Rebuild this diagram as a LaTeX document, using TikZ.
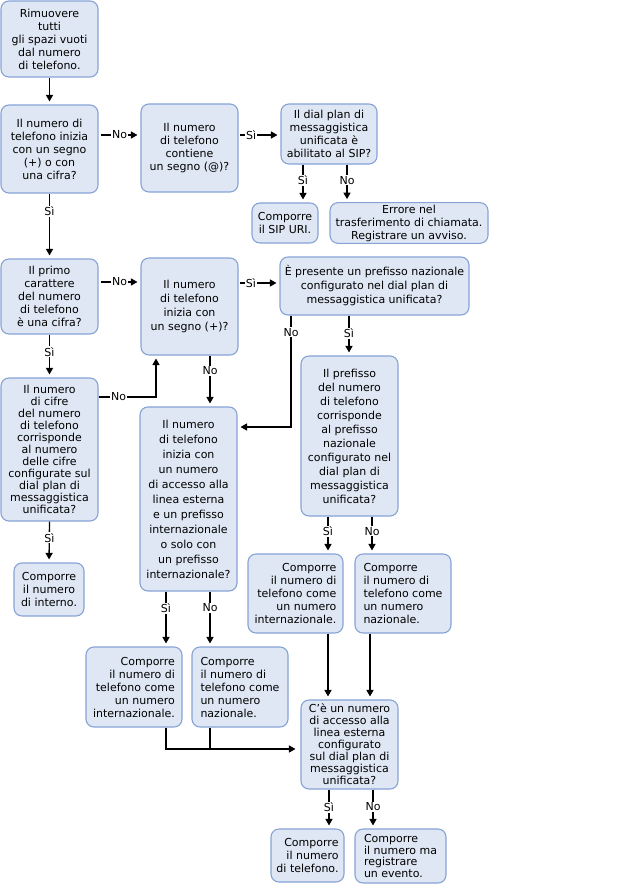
\documentclass[tikz,border=0pt]{standalone}
\usepackage{fontspec}
\setmainfont{DejaVu Sans}
\usetikzlibrary{arrows.meta}
\definecolor{boxfill}{RGB}{222,231,243}
\definecolor{boxline}{RGB}{135,163,214}
\newcommand{\bx}[8][13]{%
  \node[box, align=#7, font=\fontsize{11}{#1}\selectfont,
        minimum width={#5-#3}, minimum height={#6-#4}]
        (#2) at ({(#3+#5)/2},{(#4+#6)/2}) {#8};}
\begin{document}
\begin{tikzpicture}[x=1pt,y=-1pt,
  box/.style={draw=boxline, fill=boxfill, line width=1.1pt, rounded corners=8pt, inner sep=2pt},
  arr/.style={draw=black, line width=1.3pt, -{Triangle[length=6.5pt,width=7pt]}, shorten >=3pt},
  ln/.style={draw=black, line width=1.3pt},
  lbl/.style={fill=white, inner sep=1pt, font=\fontsize{11}{13}\selectfont}]
\useasboundingbox (0,0) rectangle (639,885);

\bx{n1}{1}{1}{98}{77}{center}{Rimuovere\\tutti\\gli spazi vuoti\\dal numero\\di telefono.}
\bx{n2}{1}{105}{98}{193}{center}{Il numero di\\telefono inizia\\con un segno\\(+) o con\\una cifra?}
\bx{n3}{141}{104}{238}{192}{center}{Il numero\\di telefono\\contiene\\un segno (@)?}
\bx{n4}{281}{104}{377}{164}{center}{Il dial plan di\\messaggistica\\unificata è\\abilitato al SIP?}
\bx{n5}{252}{203}{318}{243}{center}{Comporre\\il SIP URI.}
\bx{n6}{330}{203}{488}{243}{center}{Errore nel\\trasferimento di chiamata.\\Registrare un avviso.}
\bx{n7}{1}{259}{98}{334}{center}{Il primo\\carattere\\del numero\\di telefono\\è una cifra?}
\bx[14]{n8}{141}{258}{238}{355}{center}{Il numero\\di telefono\\inizia con\\un segno (+)?}
\bx[14]{n9}{280}{257}{469}{315}{center}{È presente un prefisso nazionale\\configurato nel dial plan di\\messaggistica unificata?}
\bx[12]{n10}{1}{378}{98}{521}{center}{Il numero\\di cifre\\del numero\\di telefono\\corrisponde\\al numero\\delle cifre\\configurate sul\\dial plan di\\messaggistica\\unificata?}
\bx[15]{n11}{140}{407}{237}{591}{center}{Il numero\\di telefono\\inizia con\\un numero\\di accesso alla\\linea esterna\\e un prefisso\\internazionale\\o solo con\\un prefisso\\internazionale?}
\bx[14]{n12}{301}{356}{398}{516}{center}{Il prefisso\\del numero\\di telefono\\corrisponde\\al prefisso\\nazionale\\configurato nel\\dial plan di\\messaggistica\\unificata?}
\bx{n13}{248}{554}{343}{633}{right}{Comporre\\il numero di\\telefono come\\un numero\\internazionale.}
\bx{n14}{355}{554}{451}{633}{left}{Comporre\\il numero di\\telefono come\\un numero\\nazionale.}
\bx{n15}{86}{647}{182}{727}{right}{Comporre\\il numero di\\telefono come\\un numero\\internazionale.}
\bx{n16}{192}{647}{288}{727}{left}{Comporre\\il numero di\\telefono come\\un numero\\nazionale.}
\bx[12]{n17}{301}{700}{398}{789}{center}{C'è un numero\\di accesso alla\\linea esterna\\configurato\\sul dial plan di\\messaggistica\\unificata?}
\bx{n18}{271}{829}{344}{882}{right}{Comporre\\il numero\\di telefono.}
\bx[11.5]{n19}{355}{829}{446}{883}{left}{Comporre\\il numero ma\\registrare\\un evento.}
\bx{n20}{14}{563}{84}{616}{center}{Comporre\\il numero\\di interno.}

% connectors
\draw[arr] (n1.south) -- (n2.north);
\draw[arr, shorten <=2pt] (n2.east |- 0,135) -- node[lbl]{No} (n3.west |- 0,135);
\draw[arr, shorten <=1pt] (n3.east |- 0,135) -- node[lbl, pos=0.3]{Sì} (n4.west |- 0,135);
\draw[arr] (n4.south -| 303,0) -- node[lbl, pos=0.42]{Sì} (n5.north -| 303,0);
\draw[arr] (n4.south -| 347,0) -- node[lbl, pos=0.42]{No} (n6.north -| 347,0);
\draw[arr] (n2.south) -- node[lbl, pos=0.27]{Sì} (n7.north);
\draw[arr, shorten <=2pt] (n7.east |- 0,282) -- node[lbl]{No} (n8.west |- 0,282);
\draw[arr, shorten <=1pt] (n8.east |- 0,283) -- node[lbl, pos=0.3]{Sì} (n9.west |- 0,283);
\draw[arr] (n7.south) -- node[lbl, pos=0.4]{Sì} (n10.north);
\coordinate (c1) at (156,397);
\draw[arr] (n10.east |- c1) -- node[lbl, pos=0.35]{No} (c1) -- (n8.south -| c1);
\draw[arr] (n8.south -| 210,0) -- node[lbl, pos=0.3]{No} (n11.north -| 210,0);
\coordinate (c2) at (291,427);
\draw[arr] (n9.south -| c2) -- node[lbl, pos=0.15]{No} (c2) -- (n11.east |- c2);
\draw[arr] (n9.south -| 349,0) -- node[lbl, pos=0.45]{Sì} (n12.north -| 349,0);
\draw[arr] (n12.south -| 328,0) -- node[lbl, pos=0.4]{Sì} (n13.north -| 328,0);
\draw[arr] (n12.south -| 372,0) -- node[lbl, pos=0.4]{No} (n14.north -| 372,0);
\draw[arr] (n11.south -| 166,0) -- node[lbl, pos=0.3]{Sì} (n15.north -| 166,0);
\draw[arr] (n11.south -| 210,0) -- node[lbl, pos=0.3]{No} (n16.north -| 210,0);
\draw[arr] (n13.south -| 328,0) -- (n17.north -| 328,0);
\draw[arr] (n14.south -| 370,0) -- (n17.north -| 370,0);
\coordinate (c3) at (166,749);
\coordinate (c4) at (210,749);
\draw[arr, shorten >=5pt] (n15.south -| c3) -- (c3) -- (n17.west |- c3);
\draw[ln] (n16.south -| c4) -- (c4);
\draw[arr] (n17.south -| 329,0) -- node[lbl, pos=0.45]{Sì} (n18.north -| 329,0);
\draw[arr] (n17.south -| 373,0) -- node[lbl, pos=0.45]{No} (n19.north -| 373,0);
\draw[arr] (n10.south) -- node[lbl, pos=0.4]{Sì} (n20.north);
\end{tikzpicture}
\end{document}
